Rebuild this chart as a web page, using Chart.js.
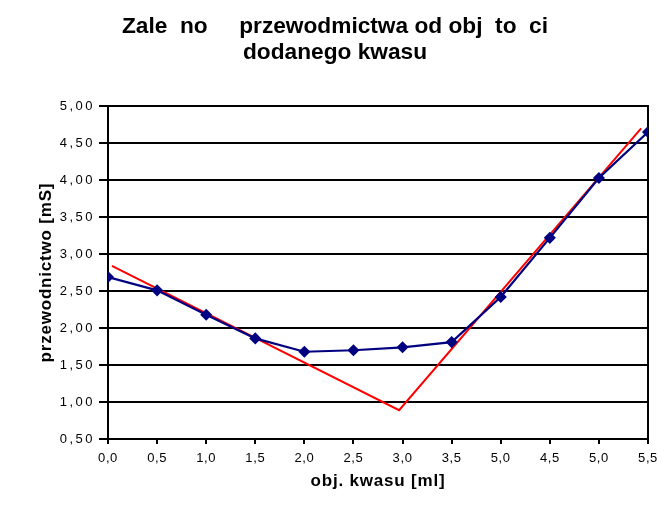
<!DOCTYPE html>
<html lang="pl">

<head>
    <meta charset="UTF-8">
    <script src="https://cdn.jsdelivr.net/npm/chart.js"></script>
    <title>Zależność przewodnictwa</title>
    <style>
        body { margin: 0; background: #fff; }
        #wrap { width: 670px; height: 520px; }
    </style>
</head>

<body>
    <div id="wrap">
        <canvas id="chart"></canvas>
    </div>

    <script>
        // tick labels as printed on the original (the 9th one really says 5,0)
        const xLabels = ['0,0', '0,5', '1,0', '1,5', '2,0', '2,5', '3,0', '3,5', '5,0', '4,5', '5,0', '5,5'];

        // measured conductivity, one value per tick
        const measured = [2.69, 2.51, 2.18, 1.86, 1.68, 1.70, 1.74, 1.81, 2.42, 3.22, 4.03, 4.65];

        // hand drawn fit lines (x in tick positions)
        const fitX = [0.08, 5.93, 10.86];
        const fitY = [2.84, 0.89, 4.70];

        const font = "'Liberation Sans', Arial, Helvetica, sans-serif";
        const spacing = { x: ['0.6px', '0.8px'], y: ['2.5px', '0.8px'] };

        // linear scale that spreads its letters a little, like the old Excel output
        class SpacedLinearScale extends Chart.LinearScale {
            drawLabels(chartArea) {
                this.ctx.save();
                this.ctx.letterSpacing = spacing[this.id][0];
                super.drawLabels(chartArea);
                this.ctx.restore();
            }
            drawTitle() {
                this.ctx.save();
                this.ctx.letterSpacing = spacing[this.id][1];
                super.drawTitle();
                this.ctx.restore();
            }
        }
        SpacedLinearScale.id = 'spacedLinear';
        SpacedLinearScale.defaults = Chart.LinearScale.defaults;
        Chart.register(SpacedLinearScale);

        const ctx = document.getElementById('chart').getContext('2d');
        new Chart(ctx, {
            type: 'line',
            data: {
                datasets: [{
                    label: 'pomiar',
                    data: measured.map((v, i) => ({ x: i, y: v })),
                    borderColor: '#000080',
                    backgroundColor: '#000080',
                    borderWidth: 2.2,
                    pointStyle: 'rectRot',
                    pointRadius: 4.5,
                    pointHoverRadius: 4.5,
                    tension: 0
                }, {
                    label: 'prosta',
                    data: fitX.map((x, i) => ({ x: x, y: fitY[i] })),
                    borderColor: '#ff0000',
                    borderWidth: 2,
                    pointRadius: 0,
                    tension: 0
                }]
            },
            options: {
                responsive: true,
                maintainAspectRatio: false,
                animation: false,
                layout: {
                    padding: 0
                },
                plugins: {
                    legend: { display: false },
                    tooltip: { enabled: false },
                    title: {
                        display: true,
                        text: ['Zale  no     przewodmictwa od obj  to  ci', 'dodanego kwasu'],
                        color: '#000',
                        font: { family: font, size: 22.7, weight: 'bold', lineHeight: 1.15 },
                        padding: { top: 14, bottom: 40 }
                    }
                },
                scales: {
                    x: {
                        type: 'spacedLinear',
                        min: 0,
                        max: 11,
                        offset: false,
                        afterFit: (scale) => { scale.height = 81; },
                        ticks: {
                            stepSize: 1,
                            autoSkip: false,
                            maxRotation: 0,
                            color: '#000',
                            padding: 7,
                            font: { family: font, size: 13 },
                            callback: (value) => xLabels[value]
                        },
                        grid: {
                            color: 'rgba(0,0,0,0)',
                            tickColor: '#000',
                            tickLength: 5,
                            lineWidth: 2
                        },
                        border: { color: '#000', width: 2 },
                        title: {
                            display: true,
                            text: 'obj. kwasu [ml]',
                            color: '#000',
                            font: { family: font, size: 17, weight: 'bold', lineHeight: 1.2 },
                            padding: { top: 0, bottom: 28 }
                        }
                    },
                    y: {
                        type: 'spacedLinear',
                        min: 0.5,
                        max: 5,
                        afterFit: (scale) => { scale.width = 108; },
                        ticks: {
                            stepSize: 0.5,
                            color: '#000',
                            padding: 4,
                            font: { family: font, size: 13 },
                            callback: (value) => value.toFixed(2).replace('.', ',')
                        },
                        grid: {
                            color: '#000',
                            tickLength: 9,
                            lineWidth: 2
                        },
                        border: { color: '#000', width: 2 },
                        title: {
                            display: true,
                            text: 'przewodnictwo [mS]',
                            color: '#000',
                            font: { family: font, size: 17, weight: 'bold', lineHeight: 1.2 },
                            padding: { top: 36, bottom: 0 }
                        }
                    },
                    // right frame line, also keeps the space right of the plot
                    y2: {
                        type: 'linear',
                        position: 'right',
                        min: 0.5,
                        max: 5,
                        afterFit: (scale) => { scale.width = 22; },
                        ticks: { display: false },
                        grid: { drawOnChartArea: false, drawTicks: false },
                        border: { color: '#000', width: 2 }
                    }
                }
            }
        });
    </script>
</body>

</html>
